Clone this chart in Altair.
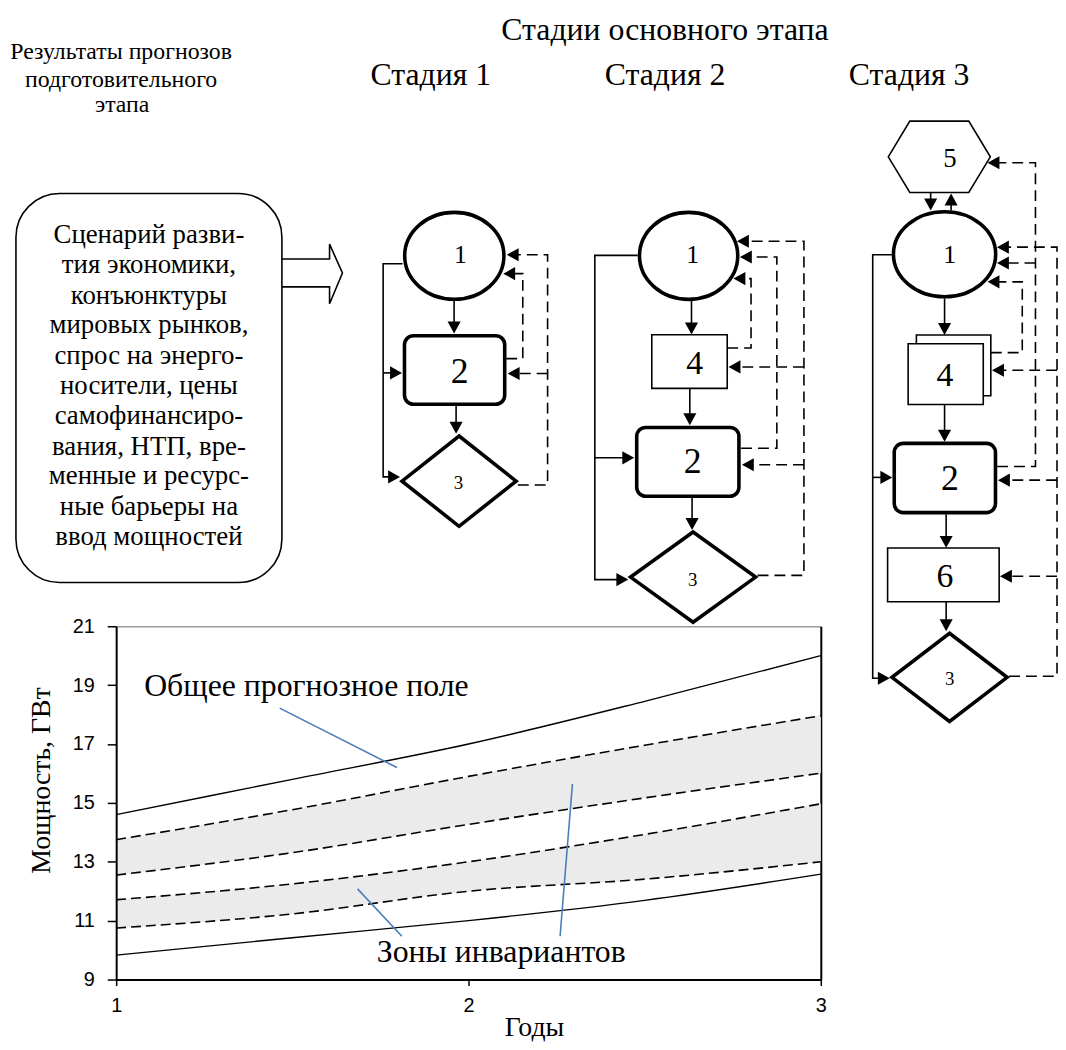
import altair as alt
import pandas as pd

# ------------------------------------------------------------------ chart data
years = [1, 1.5, 2, 2.5, 3]
field_top = [14.6, 15.8, 17.0, 18.45, 20.0]
field_bottom = [9.83, 10.42, 11.0, 11.69, 12.58]
zone1_top = [13.75, 14.77, 15.9, 16.96, 17.96]
zone1_bottom = [12.55, 13.31, 14.27, 15.17, 16.01]
zone2_top = [11.71, 12.25, 13.0, 13.93, 14.97]
zone2_bottom = [10.75, 11.23, 12.0, 12.41, 13.0]
x_tick_count = 2
y_ticks = [9, 11, 13, 15, 17, 19, 21]
x_title = "Годы"
y_title = "Мощность, ГВт"

note_text = ["Общее прогнозное поле", "Зоны инвариантов"]
note_x = [1.54, 2.093]
note_y = [18.98, 9.94]
leader_x = [1.464, 1.685, 2.295]
leader_y = [18.22, 12.08, 15.64]
leader_x2 = [1.797, 1.811, 2.260]
leader_y2 = [16.20, 10.47, 10.47]

# ------------------------------------------------------------------ diagram texts
head_text = ["Стадии основного этапа", "Стадия 1", "Стадия 2", "Стадия 3",
             "Результаты прогнозов", "подготовительного", "этапа"]
head_x = [670, 434, 670, 916, 122, 122, 123]
head_y = [26, 72, 72, 72, 48, 77, 102]
head_fs = [32, 32, 32, 32, 24, 24, 24]

scenario_text = ["Сценарий разви-", "тия экономики,", "конъюнктуры", "мировых рынков,",
                 "спрос на энерго-", "носители, цены", "самофинансиро-", "вания, НТП, вре-",
                 "менные и ресурс-", "ные барьеры на", "ввод мощностей"]
scenario_y = [233, 263, 294, 324, 355, 385, 415, 446, 476, 507, 537]

node_text = ["1", "2", "3", "1", "4", "2", "3", "5", "1", "4", "2", "6", "3"]
node_x = [464, 463, 462, 698, 700, 698, 698, 957, 957, 952, 957, 952, 957]
node_y = [253, 371, 483, 253, 363, 462, 580, 156, 253, 375, 479, 577, 680]
node_fs = [26, 36, 19, 26, 34, 36, 19, 27, 26, 34, 36, 34, 19]

# ------------------------------------------------------------------ diagram geometry
ell_cx = [457.7, 693.8, 951.7]
ell_cy = [253.8, 253.8, 252.2]
ell_rx = [50.0, 49.5, 51.5]
ell_ry = [43.8, 43.8, 42.8]

dia_cx = [462.5, 698.3, 956.7]
dia_cy = [480.8, 577.5, 678.5]
dia_hw = [57.5, 63.0, 58.0]
dia_hh = [45.5, 45.5, 44.5]

hex_cx, hex_cy, hex_hw, hex_hh, hex_top = 946.4, 154.0, 51.4, 36.0, 29.7

thin_x1 = [656.7, 923.3, 915.0, 894.3]
thin_y1 = [333.3, 333.6, 342.3, 548.2]
thin_x2 = [732.7, 998.3, 990.7, 1006.7]
thin_y2 = [387.3, 394.8, 403.5, 602.3]

thick_x1 = [407.5, 641.5, 901.0]
thick_y1 = [334.3, 426.7, 442.7]
thick_x2 = [508.5, 744.5, 1003.0]
thick_y2 = [403.3, 496.0, 512.5]

box_x1, box_y1, box_x2, box_y2 = 16, 191, 284, 583

solid_paths = [
    [(457.5, 299), (457.5, 330)],
    [(459.5, 405), (459.5, 431)],
    [(405.5, 261.7), (386, 261.7), (386, 476.5), (400, 476.5)],
    [(386, 371.7), (402, 371.7)],
    [(696.7, 299.3), (696.7, 331)],
    [(695, 387.3), (695, 422)],
    [(697.3, 497.7), (697.3, 527)],
    [(642.5, 253.3), (599.3, 253.3), (599.3, 580), (630, 580)],
    [(599.3, 457.3), (636, 457.3)],
    [(937.7, 190), (937.7, 205)],
    [(958.3, 208), (958.3, 194)],
    [(951.7, 296.7), (951.7, 331)],
    [(951.7, 403.5), (951.7, 439)],
    [(953.3, 514.2), (953.3, 546)],
    [(953.3, 602.3), (953.3, 629)],
    [(898.5, 252.7), (879.3, 252.7), (879.3, 679.4), (893, 679.4)],
    [(879.3, 477), (896, 477)],
    [(284, 257), (332, 257), (332, 242), (345, 271), (332, 302), (332, 285), (284, 285)],
]

dashed_paths = [
    [(510, 357.3), (526.7, 357.3), (526.7, 271.7), (510, 271.7)],
    [(521.7, 484.7), (551.7, 484.7), (551.7, 252.7), (514, 252.7)],
    [(551.7, 372.3), (515, 372.3)],
    [(732.7, 346.7), (756.7, 346.7), (756.7, 276.7), (742, 276.7)],
    [(746.7, 447.7), (782.7, 447.7), (782.7, 255), (748, 255)],
    [(763.3, 575.7), (810, 575.7), (810, 239), (745, 239)],
    [(810, 365.7), (737, 365.7)],
    [(810, 464.3), (750, 464.3)],
    [(998.3, 351.3), (1030, 351.3), (1030, 280), (998, 280)],
    [(1004.7, 466), (1043.3, 466), (1043.3, 160), (998, 160)],
    [(1043.3, 261), (1007, 261)],
    [(1016.7, 677.4), (1065, 677.4), (1065, 245), (1007, 245)],
    [(1065, 369.1), (1002, 369.1)],
    [(1065, 479.8), (1008, 479.8)],
    [(1065, 576.6), (1010, 576.6)],
]

arrow_tips = [
    (457.5, 332, "down"), (459.5, 433, "down"), (403, 476.5, "right"), (405, 371.7, "right"),
    (507, 271.7, "left"), (510.5, 252.7, "left"), (511.5, 372.3, "left"),
    (696.7, 333, "down"), (695, 424.5, "down"), (697.3, 530, "down"), (633, 580, "right"),
    (639, 457.3, "right"), (739, 276.7, "left"), (745.5, 255, "left"), (742.5, 239, "left"),
    (734, 365.7, "left"), (747.5, 464.3, "left"),
    (937.7, 208, "down"), (958.3, 191, "up"), (951.7, 333.5, "down"), (951.7, 441, "down"),
    (953.3, 548, "down"), (953.3, 632, "down"), (896.5, 679.4, "right"), (899, 477, "right"),
    (995, 280, "left"), (995, 160, "left"), (1004.5, 261, "left"), (1004.5, 245, "left"),
    (999.5, 369.1, "left"), (1005.5, 479.8, "left"), (1007.5, 576.6, "left"),
]

# ------------------------------------------------------------------ main chart
SX = alt.Scale(domain=[1, 3], nice=False, zero=False)
SY = alt.Scale(domain=[9, 21], nice=False, zero=False)

AX_X = alt.Axis(tickCount=x_tick_count, format="d", title=x_title, titleX=421,
                titleY=48, titleAlign="center", titleBaseline="middle", titleAngle=0,
                titleFont="Liberation Serif", titleFontSize=28, titleFontWeight="normal",
                titleColor="black", labelFont="Liberation Sans", labelFontSize=20,
                labelColor="black", labelPadding=10, labelFlush=False, labelOverlap=False,
                labelBound=False, tickSize=6, tickColor="black", tickWidth=1.5,
                domainColor="black", domainWidth=2, grid=False, zindex=1)
AX_Y = alt.Axis(values=y_ticks, tickCount=7, title=y_title, titleX=-75, titleY=155,
                titleAngle=270, titleAlign="center", titleBaseline="middle",
                titleFont="Liberation Serif", titleFontSize=28, titleFontWeight="normal",
                titleColor="black", labelFont="Liberation Sans", labelFontSize=20,
                labelColor="black", labelPadding=13, labelFlush=False, labelOverlap=False,
                tickSize=9, tickColor="black", tickWidth=1.5, domainColor="black",
                domainWidth=2, grid=False, zindex=1)

zones = pd.DataFrame({
    "x": years * 2,
    "top": zone1_top + zone2_top,
    "bottom": zone1_bottom + zone2_bottom,
    "zone": ["z1"] * 5 + ["z2"] * 5,
})
series = {"z1t": zone1_top, "z1b": zone1_bottom, "z2t": zone2_top, "z2b": zone2_bottom}
band_lines = pd.DataFrame([
    {"x": x, "v": v, "s": k} for k, vals in series.items() for x, v in zip(years, vals)
])
fields = {"ft": field_top, "fb": field_bottom}
field_lines = pd.DataFrame([
    {"x": x, "v": v, "s": k} for k, vals in fields.items() for x, v in zip(years, vals)
])
leaders = pd.DataFrame({"x": leader_x, "y": leader_y, "x2": leader_x2, "y2": leader_y2})
notes = pd.DataFrame({"t": note_text, "x": note_x, "y": note_y})

area = alt.Chart(zones).mark_area(color="#ebebeb", interpolate="monotone").encode(
    x=alt.X("x:Q", scale=SX, axis=AX_X),
    y=alt.Y("top:Q", scale=SY, axis=AX_Y),
    y2="bottom:Q",
    detail="zone:N",
)
dash = alt.Chart(band_lines).mark_line(
    color="black", strokeWidth=1.6, strokeDash=[10, 5], interpolate="monotone"
).encode(
    x=alt.X("x:Q", scale=SX, axis=AX_X),
    y=alt.Y("v:Q", scale=SY, axis=AX_Y),
    detail="s:N",
)
solid = alt.Chart(field_lines).mark_line(
    color="black", strokeWidth=1.4, interpolate="monotone"
).encode(
    x=alt.X("x:Q", scale=SX, axis=AX_X),
    y=alt.Y("v:Q", scale=SY, axis=AX_Y),
    detail="s:N",
)
lead = alt.Chart(leaders).mark_rule(color="#4a7ebb", strokeWidth=1.6).encode(
    x=alt.X("x:Q", scale=SX, axis=AX_X), y=alt.Y("y:Q", scale=SY, axis=AX_Y),
    x2="x2:Q", y2="y2:Q",
)
note = alt.Chart(notes).mark_text(
    font="Liberation Serif", fontSize=32, color="black", align="center", baseline="middle"
).encode(
    x=alt.X("x:Q", scale=SX, axis=AX_X), y=alt.Y("y:Q", scale=SY, axis=AX_Y), text="t:N",
)
main = alt.layer(area, dash, solid, lead, note)

# ------------------------------------------------------------------ diagram layer
DX = alt.Scale(domain=[117, 827], nice=False, zero=False)
DY = alt.Scale(domain=[627, 983], reverse=True, nice=False, zero=False)
AX_T = alt.Axis(orient="top", title=None, labels=False, ticks=False, grid=False,
                domainColor="#9a9a9a", domainWidth=1.5)
AX_R = alt.Axis(orient="right", title=None, labels=False, ticks=False, grid=False,
                domainColor="black", domainWidth=2)


def dx(f):
    return alt.X(f, scale=DX, axis=AX_T)


def dy(f):
    return alt.Y(f, scale=DY, axis=AX_R)


thin_df = pd.DataFrame({"x1": thin_x1, "y1": thin_y1, "x2": thin_x2, "y2": thin_y2})
thick_df = pd.DataFrame({"x1": thick_x1, "y1": thick_y1, "x2": thick_x2, "y2": thick_y2})
box_df = pd.DataFrame({"x1": [box_x1], "y1": [box_y1], "x2": [box_x2], "y2": [box_y2]})

box = alt.Chart(box_df).mark_rect(
    fill="white", stroke="black", strokeWidth=1.6, cornerRadius=44
).encode(x=dx("x1:Q"), x2="x2:Q", y=dy("y1:Q"), y2="y2:Q")
thin = alt.Chart(thin_df).mark_rect(
    fill="white", stroke="black", strokeWidth=1.6
).encode(x=dx("x1:Q"), x2="x2:Q", y=dy("y1:Q"), y2="y2:Q")
thick = alt.Chart(thick_df).mark_rect(
    fill="white", stroke="black", strokeWidth=3.6, cornerRadius=9
).encode(x=dx("x1:Q"), x2="x2:Q", y=dy("y1:Q"), y2="y2:Q")

shape_rows = []
for cx, cy, rx, ry in zip(ell_cx, ell_cy, ell_rx, ell_ry):
    r = ry / rx
    shape_rows.append({
        "x": cx, "y": cy, "sw": 3.6, "size": (2 * rx) ** 2,
        "shape": f"M-1,0 A1,{r:.3f},0,1,0,1,0 A1,{r:.3f},0,1,0,-1,0 Z",
    })
for cx, cy, hw, hh in zip(dia_cx, dia_cy, dia_hw, dia_hh):
    r = hh / hw
    shape_rows.append({
        "x": cx, "y": cy, "sw": 3.6, "size": (2 * hw) ** 2,
        "shape": f"M0,{-r:.3f} L1,0 L0,{r:.3f} L-1,0 Z",
    })
a, b = hex_top / hex_hw, hex_hh / hex_hw
shape_rows.append({
    "x": hex_cx, "y": hex_cy, "sw": 1.6, "size": (2 * hex_hw) ** 2,
    "shape": f"M-1,0 L{-a:.3f},{-b:.3f} L{a:.3f},{-b:.3f} L1,0 L{a:.3f},{b:.3f} L{-a:.3f},{b:.3f} Z",
})
shapes_df = pd.DataFrame(shape_rows)
shapes = alt.Chart(shapes_df).mark_point(
    filled=True, fill="white", stroke="black", opacity=1, strokeJoin="miter"
).encode(
    x=dx("x:Q"), y=dy("y:Q"),
    shape=alt.Shape("shape:N", scale=None, legend=None),
    size=alt.Size("size:Q", scale=None, legend=None),
    strokeWidth=alt.StrokeWidth("sw:Q", scale=None, legend=None),
)


def path_frame(paths):
    rows = []
    for pid, pts in enumerate(paths):
        for k, (x, y) in enumerate(pts):
            rows.append({"pid": pid, "k": k, "x": x, "y": y})
    return pd.DataFrame(rows)


solid_lines = alt.Chart(path_frame(solid_paths)).mark_line(
    color="black", strokeWidth=1.6
).encode(x=dx("x:Q"), y=dy("y:Q"), detail="pid:N", order="k:Q")
dashed_lines = alt.Chart(path_frame(dashed_paths)).mark_line(
    color="black", strokeWidth=1.6, strokeDash=[11, 6]
).encode(x=dx("x:Q"), y=dy("y:Q"), detail="pid:N", order="k:Q")

head_shapes = {
    "down": "M0,0 L-0.55,-1 L0.55,-1 Z",
    "up": "M0,0 L-0.55,1 L0.55,1 Z",
    "right": "M0,0 L-1,-0.55 L-1,0.55 Z",
    "left": "M0,0 L1,-0.55 L1,0.55 Z",
}
arrows_df = pd.DataFrame([
    {"x": x, "y": y, "shape": head_shapes[d]} for x, y, d in arrow_tips
])
arrows = alt.Chart(arrows_df).mark_point(
    filled=True, color="black", opacity=1, size=576, strokeWidth=0
).encode(
    x=dx("x:Q"), y=dy("y:Q"), shape=alt.Shape("shape:N", scale=None, legend=None),
)

text_df = pd.DataFrame(
    [{"t": t, "x": x, "y": y, "fs": f} for t, x, y, f in zip(head_text, head_x, head_y, head_fs)]
    + [{"t": t, "x": 150, "y": y, "fs": 27} for t, y in zip(scenario_text, scenario_y)]
    + [{"t": t, "x": x, "y": y, "fs": f} for t, x, y, f in zip(node_text, node_x, node_y, node_fs)]
)
texts = alt.Chart(text_df).mark_text(
    font="Liberation Serif", color="black", align="center", baseline="middle"
).encode(
    x=dx("x:Q"), y=dy("y:Q"), text="t:N",
    size=alt.Size("fs:Q", scale=None, legend=None),
)

diagram = alt.layer(box, thin, thick, shapes, solid_lines, dashed_lines, arrows, texts)

chart = alt.layer(main, diagram).resolve_scale(
    x="independent", y="independent"
).properties(
    width=710, height=356,
    autosize=alt.AutoSizeParams(type="none"),
    padding={"left": 109, "top": 619, "right": 239, "bottom": 64},
    background="white",
).configure_view(stroke=None)

chart.save("out.html", embed_options={"renderer": "svg", "actions": False})
